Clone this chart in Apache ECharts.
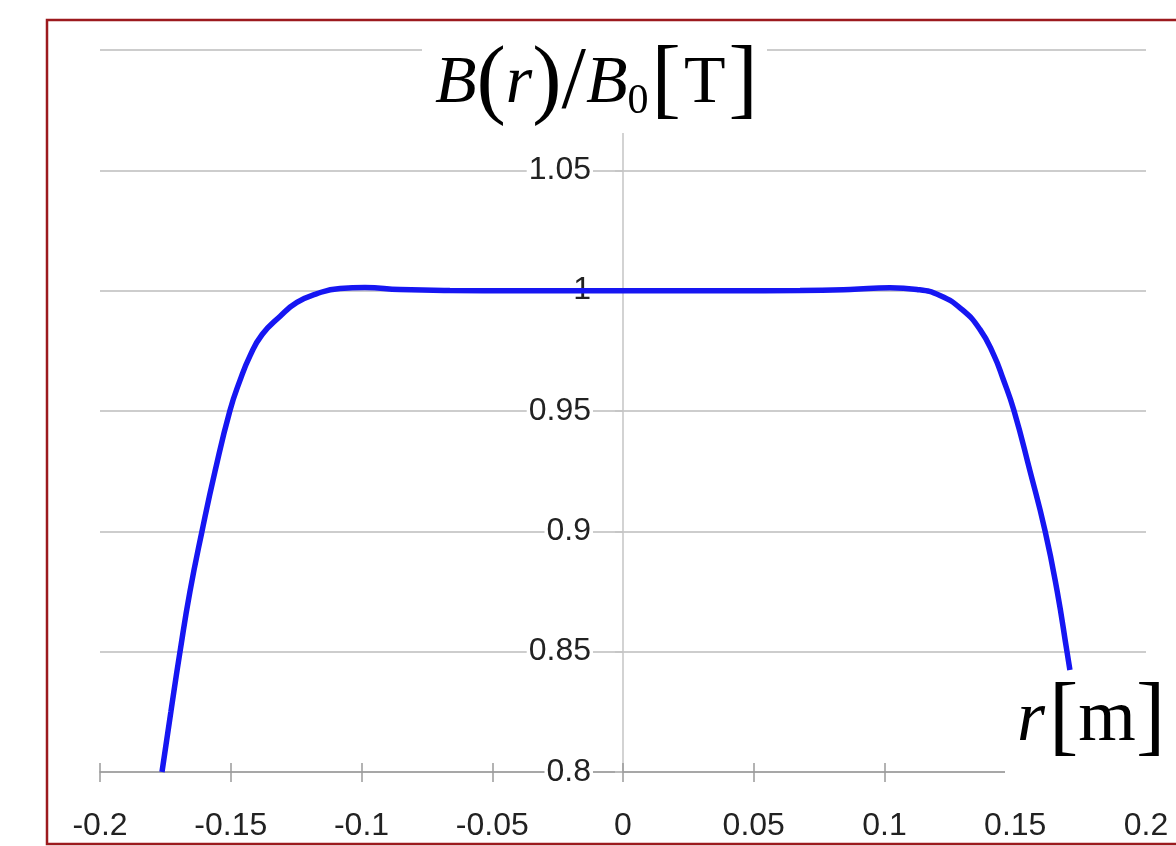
<!DOCTYPE html>
<html>
<head>
<meta charset="utf-8">
<title>B(r)/B0</title>
<script src="https://cdn.jsdelivr.net/npm/echarts@6/dist/echarts.min.js"></script>
<style>
  html, body { margin: 0; padding: 0; background: #fff; }
  #chart { width: 1176px; height: 846px; }
</style>
</head>
<body>
<div id="chart"></div>
<script>
// r [m]
const rValues = [-0.1763, -0.1729, -0.1694, -0.1656, -0.161, -0.156, -0.1503, -0.1465, -0.1426, -0.138, -0.1312, -0.1247,
  -0.117, -0.1082, -0.0987, -0.0853, -0.0662, -0.04, 0, 0.04, 0.0677, 0.0868, 0.1021, 0.1124, 0.1212, 0.1296, 0.1365,
  0.1419, 0.1453, 0.1495, 0.1556, 0.1614, 0.166, 0.1698, 0.1709]
// B(r)/B0
const bValues = [0.8, 0.825, 0.85, 0.875, 0.9, 0.925, 0.9502, 0.9626, 0.973, 0.9818, 0.9893, 0.9951,
  0.9988, 1.0009, 1.0013, 1.0005, 1.0001, 1.0, 1.0, 1.0, 1.0001, 1.0005, 1.0012, 1.0005, 0.998, 0.9922, 0.9839,
  0.973, 0.9635, 0.9502, 0.9252, 0.9002, 0.8753, 0.8499, 0.8424]

const xTicks = [-0.2, -0.15, -0.1, -0.05, 0, 0.05, 0.1, 0.15, 0.2]
const yTicks = [0.8, 0.85, 0.9, 0.95, 1, 1.05, 1.1]

const chart = echarts.init(document.getElementById('chart'))

const serif = '"Liberation Serif", "DejaVu Serif", serif'
const sans = '"Liberation Sans", Arial, sans-serif'

const gridLeft = 100
const gridRight = 30
// y axis sits at r = 0, in the middle of the plot
const yOffset = -(1176 - gridLeft - gridRight) / 2

const xBase = {
  type: 'value',
  min: xTicks[0],
  max: xTicks[xTicks.length - 1],
  interval: 0.05,
  position: 'bottom',
  splitLine: { show: false }
}

const txt = (size, italic, extra) => Object.assign({
  fontFamily: serif, fontSize: size, fontWeight: 'normal',
  fontStyle: italic ? 'italic' : 'normal', color: '#000'
}, extra)

const option = {
  animation: false,
  backgroundColor: '#fff',
  title: [
    {
      text: '{i|B}{p|(}{i|r}{p|)}{s|/}{i|B}{sub|0}{b|[}{n|T}{b|]}',
      left: 430,
      top: 34,
      z: 20,
      textStyle: {
        fontWeight: 'normal',
        rich: {
          i: txt(68, true, { lineHeight: 90 }),
          n: txt(68, false, { lineHeight: 90 }),
          p: txt(88, false, { lineHeight: 90 }),
          s: txt(88, false, { lineHeight: 90 }),
          b: txt(88, false, { lineHeight: 90, padding: [0, 3] }),
          sub: txt(42, false, { lineHeight: 50, padding: [36, 0, 0, 0] })
        }
      }
    },
    {
      text: '{i|r}{b|[}{n|m}{b|]}',
      left: 1012,
      top: 668,
      z: 20,
      textStyle: {
        fontWeight: 'normal',
        rich: {
          i: txt(72, true, { lineHeight: 96, padding: [0, 4, 0, 0] }),
          n: txt(74, false, { lineHeight: 96 }),
          b: txt(88, false, { lineHeight: 96 })
        }
      }
    }
  ],
  graphic: [
    {
      type: 'rect', z: 10,
      shape: { x: 422, y: 35, width: 345, height: 98 },
      style: { fill: '#fff' }
    },
    {
      type: 'rect', z: 10,
      shape: { x: 1005, y: 672, width: 180, height: 110 },
      style: { fill: '#fff' }
    },
    {
      type: 'rect', z: 30,
      shape: { x: 47, y: 20, width: 1200, height: 824 },
      style: { fill: 'none', stroke: '#9c1a1e', lineWidth: 2.5 }
    }
  ],
  grid: { left: gridLeft, right: gridRight, top: 50, bottom: 74 },
  xAxis: [
    Object.assign({}, xBase, {
      axisLine: { onZero: false, lineStyle: { color: '#9a9a9a', width: 1.5 } },
      axisTick: { show: true, inside: false, length: 10, lineStyle: { color: '#9a9a9a', width: 1.5 } },
      axisLabel: { margin: 38, fontFamily: sans, fontSize: 32, color: '#222' }
    }),
    Object.assign({}, xBase, {
      axisLine: { show: false },
      axisTick: { show: true, inside: true, length: 9, lineStyle: { color: '#9a9a9a', width: 1.5 } },
      axisLabel: { show: false }
    })
  ],
  yAxis: {
    type: 'value',
    min: yTicks[0],
    max: yTicks[yTicks.length - 1],
    interval: 0.05,
    position: 'left',
    offset: yOffset,
    axisLine: { show: true, onZero: false, lineStyle: { color: '#c4c4c4', width: 1.5 } },
    axisTick: { show: true, inside: false, length: 8, lineStyle: { color: '#c4c4c4', width: 1.5 } },
    axisLabel: {
      margin: 30, fontFamily: sans, fontSize: 32, color: '#222',
      backgroundColor: '#fff', padding: [0, 2]
    },
    splitLine: { show: true, lineStyle: { color: '#bdbdbd', width: 1.5 } }
  },
  series: [{
    type: 'line',
    xAxisIndex: 0,
    data: rValues.map((r, i) => [r, bValues[i]]),
    smooth: 0.5,
    showSymbol: false,
    lineStyle: { color: '#1616f2', width: 5.5 },
    z: 2
  }]
}

chart.setOption(option)
</script>
</body>
</html>
